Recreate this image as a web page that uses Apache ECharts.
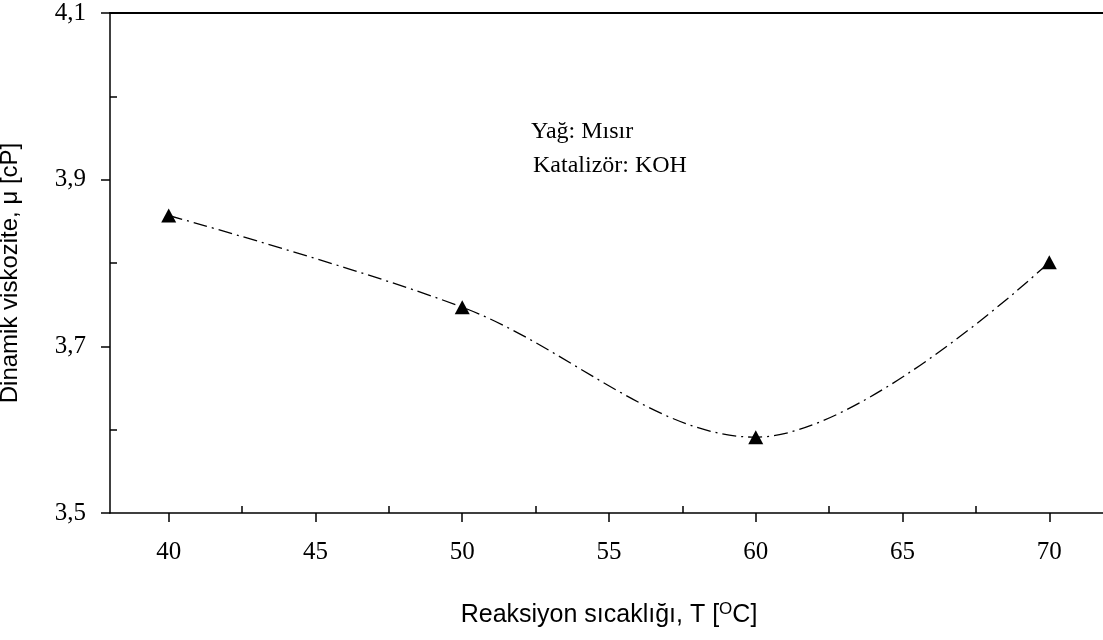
<!DOCTYPE html>
<html>
<head>
<meta charset="utf-8">
<script src="https://cdn.jsdelivr.net/npm/echarts@6/dist/echarts.min.js"></script>
<style>
  html, body { margin: 0; padding: 0; background: #fff; }
  #chart { width: 1103px; height: 640px; }
</style>
</head>
<body>
<div id="chart"></div>
<script>
// Reaction temperature (°C) and dynamic viscosity (cP)
const temperatures = [40, 50, 60, 70];
const viscosity = [3.857, 3.747, 3.591, 3.801];

// Axis ticks
const xMajorTicks = [40, 45, 50, 55, 60, 65, 70];
const xMinorTicks = [42.5, 47.5, 52.5, 57.5, 62.5, 67.5];
const yMajorTicks = [3.5, 3.7, 3.9, 4.1];
const yMinorTicks = [3.6, 3.8, 4.0];

const xTitle = 'Reaksiyon sıcaklığı, T [{sup|O}C]';
const yTitle = 'Dinamik viskozite, μ [cP]';
const noteLines = ['Yağ: Mısır', 'Katalizör: KOH'];

const serif = '"Liberation Serif", "Times New Roman", serif';
const sans = '"Liberation Sans", Arial, sans-serif';
const black = '#000';
const axisLine = { show: true, lineStyle: { color: black, width: 1.5 } };
const tickLine = { color: black, width: 1.5 };

const chart = echarts.init(document.getElementById('chart'), null, { renderer: 'canvas' });

chart.setOption({
  backgroundColor: '#fff',
  animation: false,
  grid: { left: 110, right: -5, top: 13, bottom: 127, containLabel: false, outerBoundsMode: 'none' },
  xAxis: [
    {
      type: 'value', min: 38, max: 72, position: 'bottom',
      axisLine: axisLine,
      axisTick: { show: true, customValues: xMajorTicks, length: 9, lineStyle: tickLine },
      axisLabel: { customValues: xMajorTicks, fontFamily: serif, fontSize: 25, color: black, margin: 27 },
      splitLine: { show: false },
      name: xTitle, nameLocation: 'middle', nameGap: 88,
      nameTextStyle: {
        fontFamily: sans, fontSize: 25, color: black,
        rich: { sup: { fontFamily: sans, fontSize: 17, color: black, verticalAlign: 'top', padding: [0, 0, 12, 0] } }
      }
    },
    {
      type: 'value', min: 38, max: 72, position: 'bottom',
      axisLine: { show: false },
      axisTick: { show: true, inside: true, customValues: xMinorTicks, length: 7, lineStyle: tickLine },
      axisLabel: { show: false },
      splitLine: { show: false }
    },
    {
      type: 'value', min: 38, max: 72, position: 'top',
      axisLine: { show: true, lineStyle: { color: black, width: 2 } },
      axisTick: { show: false },
      axisLabel: { show: false },
      splitLine: { show: false }
    }
  ],
  yAxis: [
    {
      type: 'value', min: 3.5, max: 4.1, position: 'left',
      axisLine: axisLine,
      axisTick: { show: true, customValues: yMajorTicks, length: 9, lineStyle: tickLine },
      axisLabel: {
        customValues: yMajorTicks, fontFamily: serif, fontSize: 25, color: black, margin: 24,
        formatter: v => v.toFixed(1).replace('.', ',')
      },
      splitLine: { show: false },
      name: yTitle, nameLocation: 'middle', nameGap: 88,
      nameTextStyle: { fontFamily: sans, fontSize: 24, color: black, padding: [0, 20, 0, 0] }
    },
    {
      type: 'value', min: 3.5, max: 4.1, position: 'left',
      axisLine: { show: false },
      axisTick: { show: true, inside: true, customValues: yMinorTicks, length: 7, lineStyle: tickLine },
      axisLabel: { show: false },
      splitLine: { show: false }
    }
  ],
  series: [
    {
      type: 'line',
      xAxisIndex: 0, yAxisIndex: 0,
      data: temperatures.map((t, i) => [t, viscosity[i]]),
      smooth: 0.35,
      symbol: 'triangle',
      symbolSize: [15, 14],
      itemStyle: { color: black },
      lineStyle: { color: black, width: 1.3, type: [14, 5, 2, 5] }
    }
  ],
  graphic: noteLines.map((line, i) => ({
    type: 'text',
    left: 531 + i * 2,
    top: 120 + i * 34,
    style: { text: line, font: '24px ' + serif, fill: black }
  }))
});
</script>
</body>
</html>
